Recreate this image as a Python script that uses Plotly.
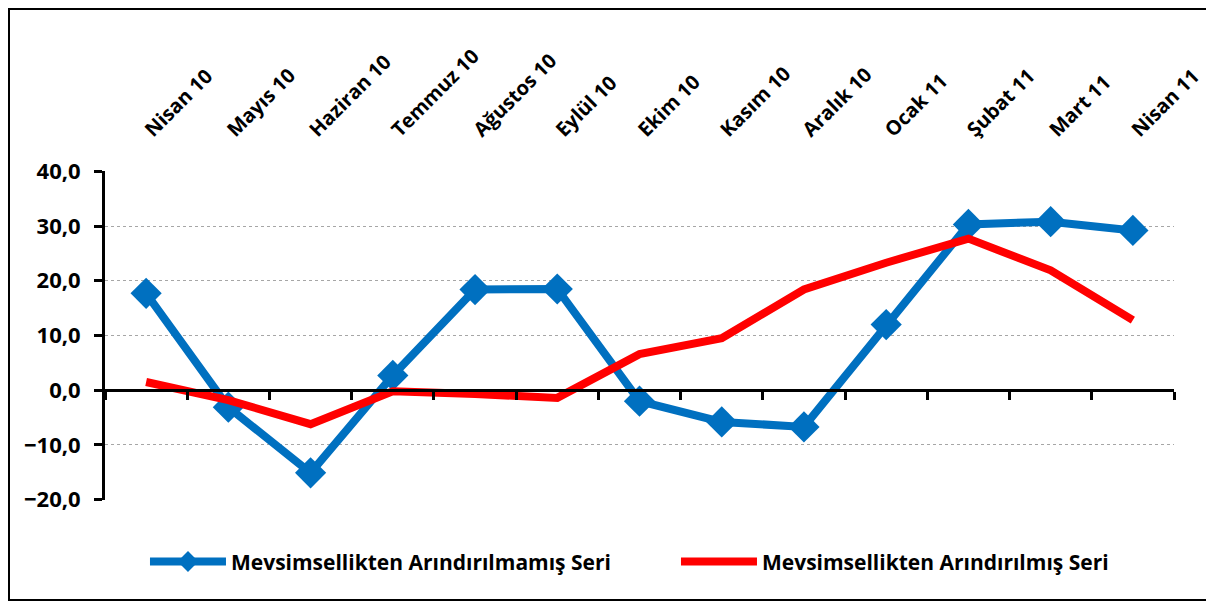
import plotly.graph_objects as go

categories = ["Nisan 10", "Mayıs 10", "Haziran 10", "Temmuz 10", "Ağustos 10", "Eylül 10",
              "Ekim 10", "Kasım 10", "Aralık 10", "Ocak 11", "Şubat 11", "Mart 11", "Nisan 11"]
raw_series = [17.7, -3.1, -15.1, 2.7, 18.4, 18.5, -2.0, -5.8, -6.7, 12.0, 30.3, 30.8, 29.2]
adj_series = [1.5, -1.8, -6.2, -0.2, -0.7, -1.4, 6.6, 9.5, 18.4, 23.3, 27.7, 21.9, 12.8]
name_raw = "Mevsimsellikten Arındırılmamış Seri"
name_adj = "Mevsimsellikten Arındırılmış Seri"

FONT = "Open Sans"

fig = go.Figure()
fig.add_trace(go.Scatter(
    x=categories, y=raw_series, name=name_raw, mode="lines+markers",
    line=dict(color="#0070C0", width=8),
    marker=dict(symbol="diamond", size=24, color="#0070C0"),
))
fig.add_trace(go.Scatter(
    x=categories, y=adj_series, name=name_adj, mode="lines",
    line=dict(color="#FF0000", width=8),
))
# invisible trace to carry the top category labels
fig.add_trace(go.Scatter(
    x=categories, y=[None] * len(categories), xaxis="x2", showlegend=False,
    hoverinfo="skip", mode="lines",
))

fig.update_layout(
    width=1206, height=595,
    margin=dict(l=97, r=40, t=163, b=103, autoexpand=False),
    paper_bgcolor="white", plot_bgcolor="white",
    separators=",.",
    font=dict(family=FONT, color="black"),
    xaxis=dict(
        type="category", categoryorder="array", categoryarray=categories,
        range=[-0.5, len(categories) - 0.5],
        anchor="free", position=1/3,
        showticklabels=False, showgrid=False, zeroline=False,
        showline=True, linecolor="black", linewidth=3,
        ticks="outside", tickson="boundaries", ticklen=8, tickwidth=3, tickcolor="black",
    ),
    xaxis2=dict(
        type="category", categoryorder="array", categoryarray=categories,
        range=[-0.5, len(categories) - 0.5],
        overlaying="x", side="top", anchor="y",
        showgrid=False, zeroline=False, showline=False, ticks="",
        tickangle=-45, ticklabelstandoff=25,
        tickfont=dict(family=FONT, size=20, color="black", weight="bold"),
    ),
    yaxis=dict(
        range=[-20.06, 40.06], tickvals=[-20, -10, 0, 10, 20, 30, 40], tickformat=".1f",
        showgrid=True, gridcolor="#a6a6a6", griddash="dot", gridwidth=1,
        zeroline=False,
        showline=True, linecolor="black", linewidth=3,
        ticks="outside", ticklen=8, tickwidth=3, tickcolor="black",
        ticklabelstandoff=9,
        tickfont=dict(family=FONT, size=22, color="black", weight="bold"),
    ),
    legend=dict(
        orientation="h", x=0.0374, xanchor="left", y=-0.188, yanchor="middle",
        bgcolor="rgba(0,0,0,0)",
        font=dict(family=FONT, size=21, color="black", weight="bold"),
        itemwidth=76, entrywidth=440, entrywidthmode="pixels",
    ),
    showlegend=True,
)

fig.add_shape(type="rect", xref="paper", yref="paper",
              x0=-0.0898, x1=1.0346, y0=-0.304, y1=1.4924,
              line=dict(color="black", width=2), fillcolor="rgba(0,0,0,0)", layer="below")

fig.write_html("out.html")
